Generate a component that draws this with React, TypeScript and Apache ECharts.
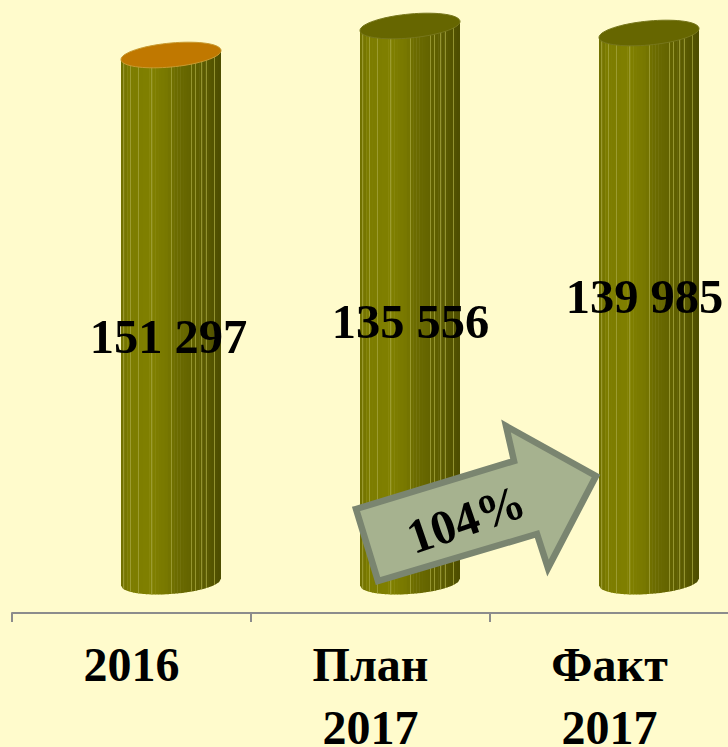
import React, { useEffect, useRef } from "react";
import * as echarts from "echarts";

const categories = ["2016", "План\n2017", "Факт\n2017"];
// Printed values (the drawn column heights in the picture do not follow them).
const valueLabels = ["151 297", "135 556", "139 985"];
// Column tops, on a hidden axis of 0..613.
const columnTops = [558, 587, 580];
const columnBase = [31, 31, 31];
const labelLevels = [277, 292, 317];
const arrowText = "104%";

const labelShift = [37, 40, 35];
const depthShift = 39.5;
const capColors = ["#c07800", "#666600", "#666600"];
const capStrokes = ["#c89a30", "#77771c", "#77771c"];
const shadeStops: [number, number][] = [
  [0, 110], [0.08, 124], [0.3, 128], [0.45, 120], [0.55, 108], [0.75, 96], [0.9, 86], [1, 76],
];
const highlights = [0.02, 0.09, 0.17, 0.3, 0.5, 0.7, 0.74, 0.8, 0.85, 0.93];
const arrowPoints = [
  [356, 509], [514, 461], [506, 426], [596, 476], [548, 568], [537, 534], [378, 581],
];

function shade(f: number) {
  for (let i = 1; i < shadeStops.length; i++) {
    const [a, va] = shadeStops[i - 1];
    const [b, vb] = shadeStops[i];
    if (f <= b) {
      const v = Math.round(va + ((vb - va) * (f - a)) / (b - a));
      return `rgb(${v},${v},0)`;
    }
  }
  return "rgb(76,76,0)";
}

function App() {
  const ref = useRef<HTMLDivElement>(null);
  useEffect(() => {
    document.body.style.margin = "0";
    document.body.style.background = "#FFFBCC";
    const chart = echarts.init(ref.current!, undefined, { renderer: "svg" });
    const font = "Liberation Serif";
    chart.setOption({
      animation: false,
      backgroundColor: "#FFFBCC",
      grid: { left: 12, top: 0, width: 717, height: 613, outerBoundsMode: "none" },
      xAxis: {
        type: "category",
        data: categories,
        axisLine: { lineStyle: { color: "#8c8c8c", width: 2 } },
        axisTick: { show: true, length: 9, lineStyle: { color: "#8c8c8c", width: 2 } },
        axisLabel: {
          interval: 0,
          margin: 20,
          fontFamily: font,
          fontWeight: "bold",
          fontSize: 48,
          lineHeight: 63,
          color: "#000",
          verticalAlign: "top",
        },
      },
      yAxis: { type: "value", min: 0, max: 613, show: false },
      series: [
        {
          type: "custom",
          data: columnTops.map((t, i) => [i, t, columnBase[i], labelLevels[i]]),
          encode: { x: 0, y: 1 },
          renderItem: (_p: any, api: any) => {
            const i = api.value(0);
            const top = api.coord([i, api.value(1)]);
            const base = api.coord([i, api.value(2)]);
            const lab = api.coord([i, api.value(3)]);
            const cx = top[0] + depthShift;
            const rx = 50;
            const ry = 12;
            const topSlope = -0.09;
            const baseSlope = -0.07;
            const curve = (u: number, cy: number, slope: number, side: number) =>
              cy + slope * rx * u + side * ry * Math.sqrt(Math.max(0, 1 - u * u));
            const children: any[] = [];
            const strips = 32;
            const strip = (f0: number, f1: number, fill: string) => {
              const u0 = 2 * f0 - 1;
              const u1 = 2 * f1 - 1;
              const um = (u0 + u1) / 2;
              children.push({
                type: "polygon",
                shape: {
                  points: [
                    [cx + rx * u0, curve(u0, top[1], topSlope, 0)],
                    [cx + rx * u1, curve(u1, top[1], topSlope, 0)],
                    [cx + rx * u1, curve(u1, base[1], baseSlope, 1)],
                    [cx + rx * um, curve(um, base[1], baseSlope, 1)],
                    [cx + rx * u0, curve(u0, base[1], baseSlope, 1)],
                  ],
                },
                style: { fill },
              });
            };
            for (let s = 0; s < strips; s++) {
              strip(s / strips, Math.min(1, (s + 1.15) / strips), shade((s + 0.5) / strips));
            }
            highlights.forEach((f) => strip(f, f + 0.008, "#a3a33c"));
            const cap: number[][] = [];
            for (let a = 0; a < 72; a++) {
              const th = (a / 72) * 2 * Math.PI;
              const u = Math.cos(th);
              cap.push([cx + rx * u, top[1] + topSlope * rx * u + ry * Math.sin(th)]);
            }
            children.push({
              type: "polygon",
              shape: { points: cap },
              style: { fill: capColors[i], stroke: capStrokes[i], lineWidth: 1 },
            });
            children.push({
              type: "text",
              x: top[0] + labelShift[i],
              y: lab[1],
              style: {
                text: valueLabels[i],
                fontFamily: font,
                fontWeight: "bold",
                fontSize: 48.5,
                fill: "#000",
                align: "center",
                verticalAlign: "middle",
              },
            });
            return { type: "group", children };
          },
        },
      ],
      graphic: [
        {
          type: "polygon",
          z: 10,
          shape: { points: arrowPoints },
          style: { fill: "#A6B28F", stroke: "#7A8570", lineWidth: 6.5, lineJoin: "miter" },
        },
        {
          type: "text",
          z: 11,
          x: 466,
          y: 519,
          rotation: (19 * Math.PI) / 180,
          style: {
            text: arrowText,
            fontFamily: font,
            fontWeight: "bold",
            fontSize: 48.5,
            fill: "#000",
            align: "center",
            verticalAlign: "middle",
          },
        },
      ],
    });
    return () => chart.dispose();
  }, []);
  return <div ref={ref} style={{ width: 728, height: 747 }} />;
}

export default App;
